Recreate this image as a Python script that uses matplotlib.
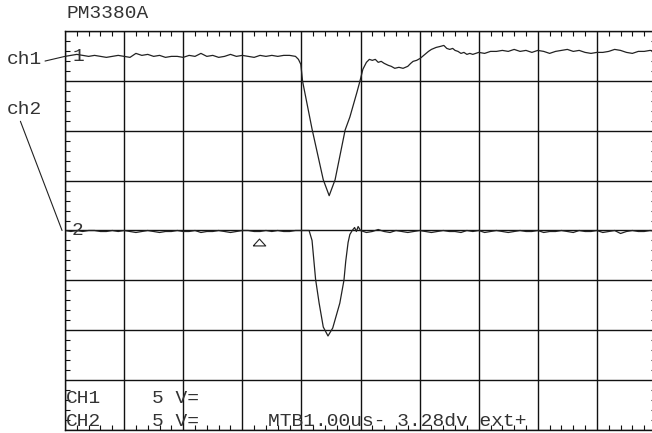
import numpy as np
import matplotlib
matplotlib.use('Agg')
import matplotlib.pyplot as plt
from matplotlib.ticker import MultipleLocator

#=========================================================
#                  data
#=========================================================
# time in us (MTB 1.00 us/div), amplitude in V (5 V/div)
t_ch1 = [0.0, 0.1, 0.2, 0.3, 0.4, 0.5, 0.6, 0.7, 0.8, 0.9,
         1.0, 1.1, 1.2, 1.3, 1.4, 1.5, 1.6, 1.7, 1.8, 1.9,
         2.0, 2.1, 2.2, 2.3, 2.4, 2.5, 2.6, 2.7, 2.8, 2.9,
         3.0, 3.1, 3.2, 3.3, 3.4, 3.5, 3.6, 3.7, 3.8, 3.9,
         3.95, 3.99, 4.02, 4.18, 4.37, 4.47, 4.57, 4.74, 4.82, 4.94,
         4.99, 5.04, 5.10, 5.15, 5.20, 5.25, 5.30, 5.35, 5.40, 5.47,
         5.52, 5.58, 5.65, 5.72, 5.80, 5.85, 5.89, 5.95, 6.01, 6.09,
         6.15, 6.20, 6.28, 6.35, 6.41, 6.46, 6.51, 6.56, 6.60, 6.65,
         6.70, 6.75, 6.80, 6.85, 6.90, 6.95, 7.0, 7.1, 7.2, 7.3,
         7.4, 7.5, 7.6, 7.7, 7.8, 7.9, 8.0, 8.1, 8.2, 8.3,
         8.4, 8.5, 8.6, 8.7, 8.8, 8.9, 9.0, 9.1, 9.2, 9.3,
         9.4, 9.5, 9.6, 9.7, 9.8, 9.9, 10.0]
v_ch1 = [0.0, 0.1, 0.2, 0.1, 0.0, 0.1, 0.0, -0.1, 0.0, 0.1,
         0.0, -0.1, 0.3, 0.1, 0.2, 0.0, 0.1, -0.1, 0.0, 0.0,
         -0.1, 0.1, 0.0, 0.3, 0.0, 0.1, -0.1, 0.0, 0.2, 0.0,
         0.1, 0.0, -0.1, 0.1, 0.0, 0.1, 0.0, 0.1, 0.1, 0.0,
         -0.3, -0.8, -2.5, -7.3, -12.4, -14.0, -12.4, -7.4, -6.1, -3.6,
         -2.5, -1.3, -0.6, -0.3, -0.4, -0.3, -0.6, -0.5, -0.7, -0.9,
         -1.0, -1.2, -1.1, -1.2, -1.0, -0.7, -0.5, -0.4, -0.2, 0.2,
         0.5, 0.7, 0.9, 1.0, 1.1, 0.8, 0.7, 0.8, 0.6, 0.5,
         0.3, 0.4, 0.2, 0.3, 0.2, 0.3, 0.4, 0.3, 0.5, 0.5,
         0.6, 0.5, 0.7, 0.5, 0.6, 0.4, 0.6, 0.5, 0.3, 0.5,
         0.6, 0.7, 0.5, 0.6, 0.4, 0.3, 0.4, 0.4, 0.5, 0.7,
         0.6, 0.4, 0.3, 0.5, 0.5, 0.6, 0.5]

t_ch2 = [0.0, 0.1, 0.2, 0.3, 0.4, 0.5, 0.6, 0.7, 0.8, 0.9,
         1.0, 1.1, 1.2, 1.3, 1.4, 1.5, 1.6, 1.7, 1.8, 1.9,
         2.0, 2.1, 2.2, 2.3, 2.4, 2.5, 2.6, 2.7, 2.8, 2.9,
         3.0, 3.1, 3.2, 3.3, 3.4, 3.5, 3.6, 3.7, 3.8, 3.9,
         4.0, 4.13, 4.18, 4.24, 4.30, 4.37, 4.45, 4.53, 4.65, 4.72,
         4.75, 4.79, 4.82, 4.86, 4.90, 4.93, 4.96, 5.0, 5.1, 5.2,
         5.3, 5.4, 5.5, 5.6, 5.7, 5.8, 5.9, 6.0, 6.1, 6.2,
         6.3, 6.4, 6.5, 6.6, 6.7, 6.8, 6.9, 7.0, 7.1, 7.2,
         7.3, 7.4, 7.5, 7.6, 7.7, 7.8, 7.9, 8.0, 8.1, 8.2,
         8.3, 8.4, 8.5, 8.6, 8.7, 8.8, 8.9, 9.0, 9.1, 9.2,
         9.3, 9.4, 9.5, 9.6, 9.7, 9.8, 9.9, 10.0]
v_ch2 = [0.0, -0.1, 0.0, -0.1, 0.0, 0.0, -0.1, -0.1, 0.0, -0.1,
         0.0, -0.1, -0.2, -0.1, 0.0, -0.1, -0.2, -0.1, -0.1, 0.0,
         -0.1, -0.1, 0.0, -0.2, -0.1, -0.1, 0.0, -0.1, -0.2, -0.1,
         0.0, 0.0, -0.1, -0.1, 0.0, -0.1, 0.0, -0.1, -0.1, 0.0,
         0.0, 0.0, -1.0, -4.9, -7.3, -9.7, -10.6, -9.8, -7.3, -5.0,
         -3.1, -1.2, -0.4, 0.0, 0.3, -0.1, 0.4, 0.0, -0.2, -0.1,
         0.1, -0.1, -0.2, 0.0, -0.1, -0.2, -0.1, 0.0, -0.1, -0.2,
         -0.1, 0.0, -0.1, -0.1, -0.2, 0.0, -0.1, 0.0, -0.2, -0.1,
         0.0, -0.1, -0.2, -0.1, 0.0, -0.1, -0.1, 0.0, -0.2, -0.1,
         -0.1, 0.0, -0.1, -0.2, 0.0, -0.1, -0.1, 0.0, -0.2, -0.1,
         0.0, -0.3, -0.1, 0.0, -0.1, -0.1, 0.0, -0.1]

volt_div = 5.0      # V per division
ch1_pos = 7.5       # baseline positions in divisions
ch2_pos = 4.0
trig_pos = 3.28     # trigger marker, divisions

#=========================================================
#                  Plot
#=========================================================
plt.rcParams['font.family'] = ['Liberation Mono', 'DejaVu Sans Mono']
fs = 14
col = '#111111'
tcol = '#333333'

fig = plt.figure(figsize=(6.52, 4.33), dpi=100)
ax = fig.add_axes([65/652, 3.5/433, 591/652, 398/433])
ax.set_xlim(0, 10)
ax.set_ylim(0, 8)

ax.xaxis.set_major_locator(MultipleLocator(1))
ax.yaxis.set_major_locator(MultipleLocator(1))
ax.xaxis.set_minor_locator(MultipleLocator(0.2))
ax.yaxis.set_minor_locator(MultipleLocator(0.2))
ax.tick_params(which='both', direction='in', top=True, right=True,
               labelbottom=False, labelleft=False, color=col)
ax.tick_params(which='major', length=0)
ax.tick_params(which='minor', length=3.6, width=0.8)
ax.grid(which='major', color=col, lw=1.0)
for sp in ax.spines.values():
    sp.set_color(col)
    sp.set_linewidth(1.0)

aT1 = np.array(t_ch1)
aT2 = np.array(t_ch2)
ax.plot(aT1, ch1_pos + np.array(v_ch1)/volt_div, '-', color='#222222', lw=0.9)
ax.plot(aT2, ch2_pos + np.array(v_ch2)/volt_div, '-', color='#222222', lw=0.9)

# channel markers
ax.text(0.12, ch1_pos, '1', fontsize=fs, va='center', ha='left', color=tcol)
ax.text(0.12, ch2_pos, '2', fontsize=fs, va='center', ha='left', color=tcol)

# trigger position triangle
tri = [(-1, -0.55), (1, -0.55), (0, 0.55), (-1, -0.55)]
ax.plot([trig_pos], [3.76], marker=tri, ms=9, mfc='none', mec='#222222', mew=0.8)

# channel leader labels
ax.annotate('ch1', xy=(0, ch1_pos), xytext=(7/652, 1 - 60/433), textcoords='figure fraction',
            fontsize=fs, va='center', ha='left', color=tcol,
            arrowprops=dict(arrowstyle='-', color='#222222', lw=0.8, shrinkA=0, shrinkB=0,
                            relpos=(1.0, 0.4)),
            annotation_clip=False)
ax.annotate('ch2', xy=(-0.05, ch2_pos), xytext=(7/652, 1 - 110/433), textcoords='figure fraction',
            fontsize=fs, va='center', ha='left', color=tcol,
            arrowprops=dict(arrowstyle='-', color='#222222', lw=0.8, shrinkA=0, shrinkB=0,
                            relpos=(0.35, 0.0)),
            annotation_clip=False)

fig.text(67/652, 1 - 14/433, 'PM3380A', fontsize=fs, va='center', ha='left', color=tcol)

# readouts at the bottom of the screen
ax.text(0.02, 0.63, 'CH1', fontsize=fs, va='center', ha='left', color=tcol)
ax.text(1.47, 0.63, '5 V=', fontsize=fs, va='center', ha='left', color=tcol)
ax.text(0.02, 0.16, 'CH2', fontsize=fs, va='center', ha='left', color=tcol)
ax.text(1.47, 0.16, '5 V=', fontsize=fs, va='center', ha='left', color=tcol)
ax.text(3.43, 0.16, 'MTB1.00us- 3.28dv ext+', fontsize=fs, va='center', ha='left', color=tcol)

fig.savefig('out.png', dpi=100)
